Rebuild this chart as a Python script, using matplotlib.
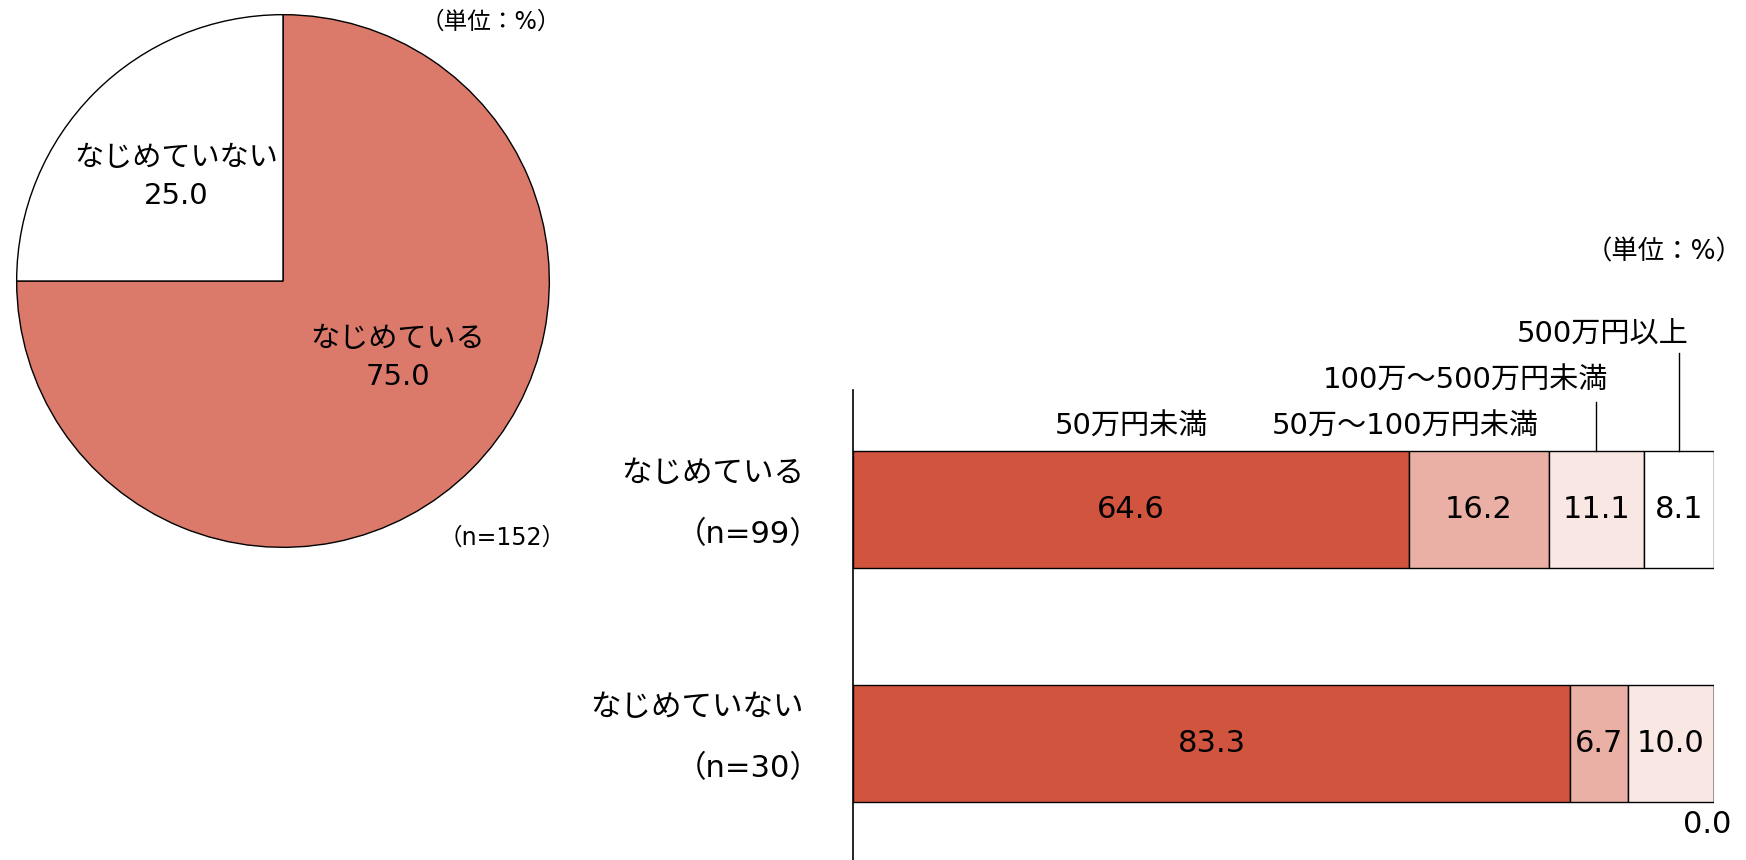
import numpy as np
import matplotlib
matplotlib.use('Agg')
import matplotlib.pyplot as plt

# 数字・英字は DejaVu、かな漢字は Noto
plt.rcParams['font.family'] = ['DejaVu Sans', 'Noto Sans CJK JP']

# 円グラフ：なじめている／なじめていない
pie_labels = ['なじめている', 'なじめていない']
pie_values = [75.0, 25.0]
pie_colors = ['#DB7A6B', '#FFFFFF']

# 帯グラフ：金額区分別
groups = ['なじめている', 'なじめていない']
group_n = ['（n=99）', '（n=30）']
bands = ['50万円未満', '50万～100万円未満', '100万～500万円未満', '500万円以上']
band_values = [
    [64.6, 16.2, 11.1, 8.1],
    [83.3, 6.7, 10.0, 0.0],
]
band_colors = ['#D1543E', '#EAB0A6', '#F9E7E4', '#FFFFFF']

W, H = 1746, 860
fig = plt.figure(figsize=(W / 100, H / 100), dpi=100)

# ---- 円グラフ ----
cx, cy, r = 283, 281, 269
ax1 = fig.add_axes([(cx - r) / W, (H - cy - r) / H, 2 * r / W, 2 * r / H])
ax1.pie(pie_values, colors=pie_colors, startangle=90, counterclock=False,
        radius=1, wedgeprops=dict(edgecolor='black', linewidth=1))
ax1.set_xlim(-1.01, 1.01)
ax1.set_ylim(-1.01, 1.01)
ax1.set_aspect('equal')
ax1.axis('off')
ax1.text(0.43, -0.29, pie_labels[0] + '\n' + f'{pie_values[0]:.1f}',
         ha='center', va='center', fontsize=21, linespacing=1.45)
ax1.text(-0.40, 0.39, pie_labels[1] + '\n' + f'{pie_values[1]:.1f}',
         ha='center', va='center', fontsize=21, linespacing=1.45)
fig.text(491 / W, 1 - 22 / H, '（単位：%）', ha='center', va='center', fontsize=17)
fig.text(502 / W, 1 - 538 / H, '（n=152）', ha='center', va='center', fontsize=17)

# ---- 帯グラフ ----
x0, x1, ytop = 853, 1714, 390
ax2 = fig.add_axes([x0 / W, 0, (x1 - x0) / W, (H - ytop) / H])
ypos = [1, 0]
for yi, vals in zip(ypos, band_values):
    left = 0.0
    for v, c in zip(vals, band_colors):
        ax2.barh(yi, v, left=left, height=0.5, color=c,
                 edgecolor='black', linewidth=1)
        if v > 0:
            ax2.text(left + v / 2, yi, f'{v:.1f}', ha='center', va='center',
                     fontsize=22)
        left += v
# 0.0 の区分はバーの外に表示
ax2.text(99.2, -0.35, f'{band_values[1][3]:.1f}', ha='center', va='center',
         fontsize=22, clip_on=False)

ax2.set_xlim(0, 100)
ax2.set_ylim(-0.5, 1.51)
for s in ['top', 'right', 'bottom']:
    ax2.spines[s].set_visible(False)
ax2.spines['left'].set_linewidth(1.2)
ax2.set_xticks([])
ax2.set_yticks([])

for yi, g, n in zip(ypos, groups, group_n):
    ax2.text(-5.7, yi + 0.154, g, ha='right', va='center', fontsize=22,
             clip_on=False)
    ax2.text(-3.8, yi - 0.107, n, ha='right', va='center', fontsize=22,
             clip_on=False)

# 凡例（区分名）と引出線
v1 = band_values[0]
ax2.text(v1[0] / 2, 1.354, bands[0], ha='center', va='center', fontsize=21,
         clip_on=False)
ax2.text(64.1, 1.354, bands[1], ha='center', va='center', fontsize=21,
         clip_on=False)
ax2.text(71.1, 1.55, bands[2], ha='center', va='center', fontsize=21,
         clip_on=False)
ax2.text(87.1, 1.746, bands[3], ha='center', va='center', fontsize=21,
         clip_on=False)
c3 = v1[0] + v1[1] + v1[2] / 2
c4 = v1[0] + v1[1] + v1[2] + v1[3] / 2
ax2.plot([c3, c3], [1.25, 1.46], color='black', linewidth=1, clip_on=False)
ax2.plot([c4, c4], [1.25, 1.67], color='black', linewidth=1, clip_on=False)

fig.text(1664 / W, 1 - 252 / H, '（単位：%）', ha='center', va='center', fontsize=19)

fig.savefig('out.png', dpi=100)
